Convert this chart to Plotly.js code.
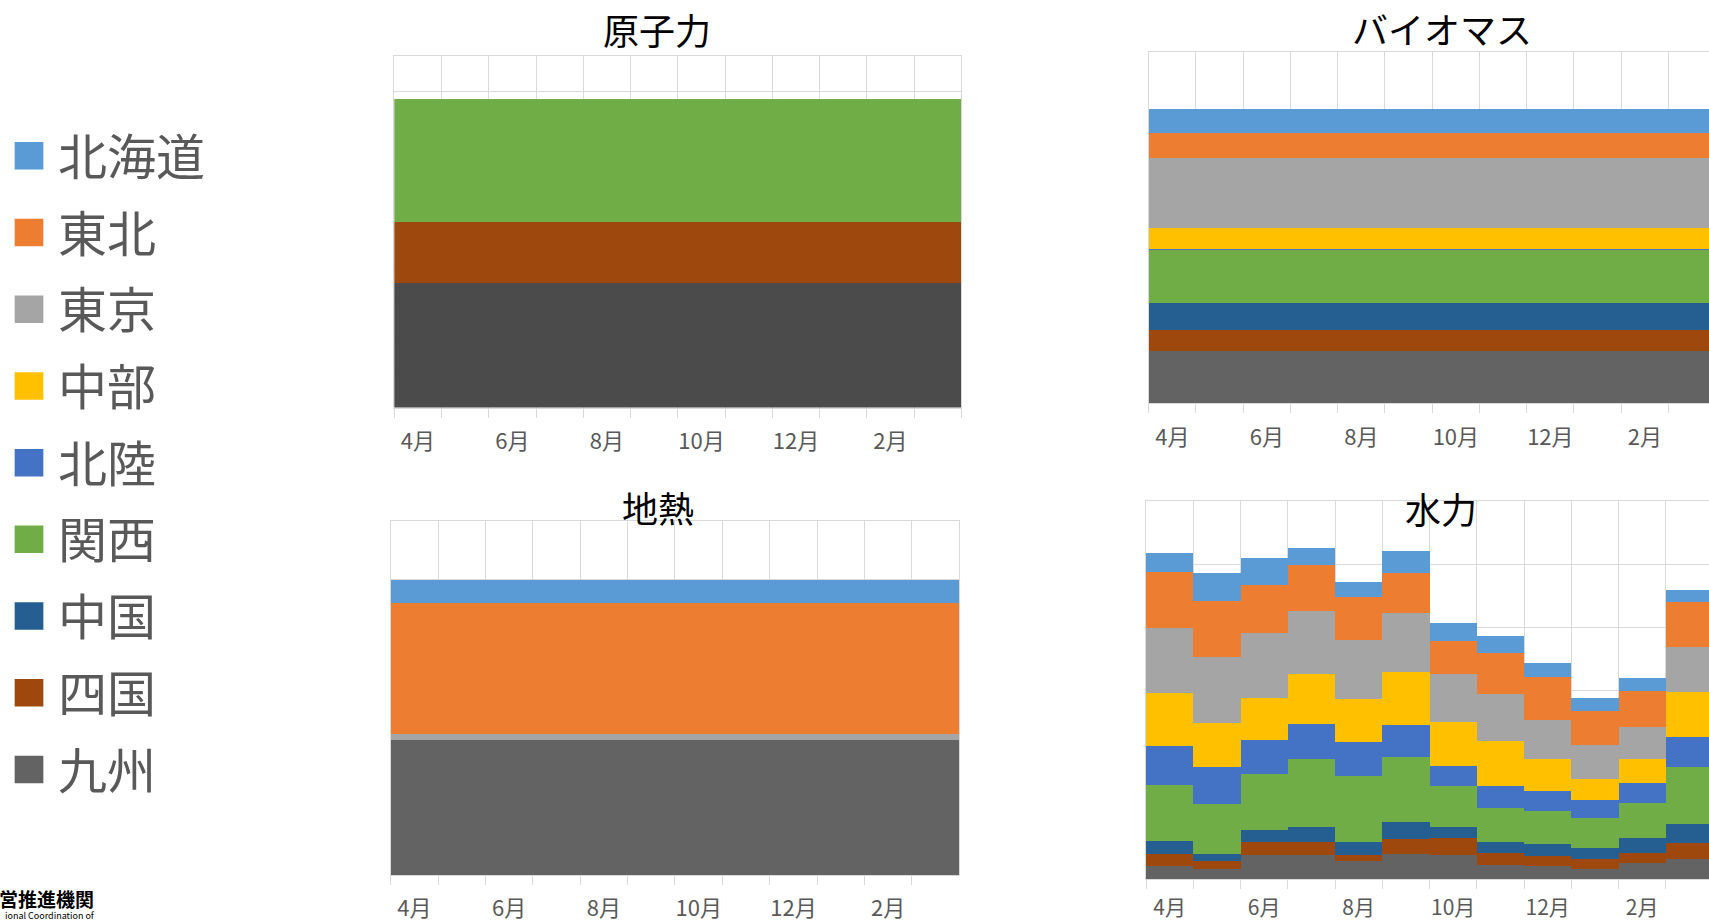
<!DOCTYPE html>
<html>
<head>
<meta charset="utf-8">
<script src="https://cdn.plot.ly/plotly-3.0.1.min.js"></script>
<style>
html,body{margin:0;padding:0;overflow:hidden;background:#ffffff;}
#chart{width:1725px;height:922px;}
</style>
</head>
<body>
<div id="chart"></div>
<script>
// ---- categories & labels ----
const months = ['4月','5月','6月','7月','8月','9月','10月','11月','12月','1月','2月','3月'];
const tickLabels = ['4月','','6月','','8月','','10月','','12月','','2月',''];
const chartTitles = ['原子力','バイオマス','地熱','水力'];
// stacking order, bottom to top
const regions = ['九州','四国','中国','関西','北陸','中部','東京','東北','北海道'];
const regionColors = ['#636363','#9E480E','#255E91','#70AD47','#4472C4','#FFC000','#A5A5A5','#ED7D31','#5B9BD5'];

// ---- 水力 (hydro) ----
const hydroKyushu   = [0.21,0.16,0.38,0.38,0.28,0.40,0.38,0.23,0.20,0.16,0.25,0.31];
const hydroShikoku  = [0.19,0.13,0.21,0.21,0.10,0.23,0.27,0.19,0.17,0.15,0.17,0.26];
const hydroChugoku  = [0.21,0.10,0.19,0.24,0.21,0.28,0.18,0.17,0.18,0.19,0.23,0.30];
const hydroKansai   = [0.88,0.80,0.88,1.07,1.05,1.02,0.65,0.54,0.53,0.47,0.56,0.90];
const hydroHokuriku = [0.62,0.58,0.54,0.56,0.54,0.52,0.31,0.34,0.32,0.28,0.32,0.49];
const hydroChubu    = [0.84,0.70,0.68,0.79,0.68,0.83,0.70,0.72,0.51,0.34,0.38,0.71];
const hydroTokyo    = [1.04,1.05,1.03,1.01,0.94,0.94,0.77,0.75,0.62,0.54,0.51,0.71];
const hydroTohoku   = [0.88,0.90,0.75,0.73,0.67,0.64,0.52,0.64,0.68,0.54,0.57,0.71];
const hydroHokkaido = [0.30,0.44,0.44,0.26,0.24,0.35,0.28,0.28,0.22,0.21,0.20,0.19];

// ---- 原子力 (nuclear) ----
const nuclearKyushu  = [3.53,3.53,3.53,3.53,3.53,3.53,3.53,3.53,3.53,3.53,3.53,3.53];
const nuclearShikoku = [1.75,1.75,1.75,1.75,1.75,1.75,1.75,1.75,1.75,1.75,1.75,1.75];
const nuclearKansai  = [3.51,3.51,3.51,3.51,3.51,3.51,3.51,3.51,3.51,3.51,3.51,3.51];

// ---- バイオマス (biomass) ----
const bioKyushu   = [0.89,0.89,0.89,0.89,0.89,0.89,0.89,0.89,0.89,0.89,0.89,0.89];
const bioShikoku  = [0.36,0.36,0.36,0.36,0.36,0.36,0.36,0.36,0.36,0.36,0.36,0.36];
const bioChugoku  = [0.46,0.46,0.46,0.46,0.46,0.46,0.46,0.46,0.46,0.46,0.46,0.46];
const bioKansai   = [0.91,0.91,0.91,0.91,0.91,0.91,0.91,0.91,0.91,0.91,0.91,0.91];
const bioHokuriku = [0.01,0.01,0.01,0.01,0.01,0.01,0.01,0.01,0.01,0.01,0.01,0.01];
const bioChubu    = [0.37,0.37,0.37,0.37,0.37,0.37,0.37,0.37,0.37,0.37,0.37,0.37];
const bioTokyo    = [1.18,1.18,1.18,1.18,1.18,1.18,1.18,1.18,1.18,1.18,1.18,1.18];
const bioTohoku   = [0.44,0.44,0.44,0.44,0.44,0.44,0.44,0.44,0.44,0.44,0.44,0.44];
const bioHokkaido = [0.40,0.40,0.40,0.40,0.40,0.40,0.40,0.40,0.40,0.40,0.40,0.40];

// ---- 地熱 (geothermal) ----
const geoKyushu   = [2.29,2.29,2.29,2.29,2.29,2.29,2.29,2.29,2.29,2.29,2.29,2.29];
const geoTokyo    = [0.10,0.10,0.10,0.10,0.10,0.10,0.10,0.10,0.10,0.10,0.10,0.10];
const geoTohoku   = [2.21,2.21,2.21,2.21,2.21,2.21,2.21,2.21,2.21,2.21,2.21,2.21];
const geoHokkaido = [0.39,0.39,0.39,0.39,0.39,0.39,0.39,0.39,0.39,0.39,0.39,0.39];

// ---- layout helpers ----
const W = 1725, H = 922;
const fx = p => p / W;
const fy = p => 1 - p / H;
const FONT = '"Noto Sans CJK JP", "Noto Sans", sans-serif';

function colorOf(region){ return regionColors[regions.indexOf(region)]; }

const traces = [];
function addSeries(list, ax, showLegend, overrides){
  list.forEach(([region, vals]) => {
    traces.push({
      type:'bar', x: months, y: vals, name: region,
      legendgroup: region, showlegend: showLegend,
      legendrank: regions.length - regions.indexOf(region),
      marker: {color: (overrides && overrides[region]) || colorOf(region), line:{width:0}},
      xaxis: 'x' + ax, yaxis: 'y' + ax,
      hoverinfo: 'skip'
    });
  });
}

addSeries([['九州',hydroKyushu],['四国',hydroShikoku],['中国',hydroChugoku],['関西',hydroKansai],
           ['北陸',hydroHokuriku],['中部',hydroChubu],['東京',hydroTokyo],['東北',hydroTohoku],['北海道',hydroHokkaido]], 4, true);
addSeries([['九州',nuclearKyushu],['四国',nuclearShikoku],['関西',nuclearKansai]], '', false, {'九州':'#4B4B4B'});
addSeries([['九州',bioKyushu],['四国',bioShikoku],['中国',bioChugoku],['関西',bioKansai],
           ['北陸',bioHokuriku],['中部',bioChubu],['東京',bioTokyo],['東北',bioTohoku],['北海道',bioHokkaido]], 2, false);
addSeries([['九州',geoKyushu],['東京',geoTokyo],['東北',geoTohoku],['北海道',geoHokkaido]], 3, false);

function xAxis(l, r, anchor, standoff, fsize){
  return {
    domain:[fx(l), fx(r)], anchor: anchor,
    type:'category', categoryorder:'array', categoryarray: months,
    tickmode:'array', tickvals: months, ticktext: tickLabels, tickangle: 0,
    tickson:'boundaries', ticks:'outside', ticklen:9, tickwidth:1, tickcolor:'#d9d9d9',
    showgrid:true, gridcolor:'#d9d9d9', gridwidth:1,
    showline:true, linecolor:'#d9d9d9', linewidth:1, mirror:true,
    zeroline:false, ticklabelstandoff: standoff,
    tickfont:{family:FONT, size:fsize, color:'#595959'},
    fixedrange:true
  };
}
function yAxis(t, b, max, anchor){
  return {
    domain:[fy(b), fy(t)], anchor: anchor,
    range:[0, max], tick0:0, dtick:1,
    showticklabels:false, ticks:'',
    showgrid:true, gridcolor:'#d9d9d9', gridwidth:1,
    showline:true, linecolor:'#d9d9d9', linewidth:1, mirror:true,
    zeroline:false, fixedrange:true
  };
}

const titleAnn = (text, xpx, ypx) => ({
  text: text, xref:'paper', yref:'paper', x: fx(xpx), y: fy(ypx),
  xanchor:'center', yanchor:'middle', showarrow:false,
  font:{family:FONT, size:36, color:'#000000'}
});

const layout = {
  width: W, height: H,
  margin:{l:0, r:0, t:0, b:0, pad:0},
  paper_bgcolor:'#ffffff', plot_bgcolor:'rgba(0,0,0,0)',
  barmode:'stack', bargap:0,
  showlegend:true,
  legend:{
    x: fx(-3), y: fy(117.5), xanchor:'left', yanchor:'top',
    font:{family:FONT, size:49, color:'#595959'},
    itemwidth: 48, traceorder:'grouped', tracegroupgap: 10,
    bgcolor:'rgba(0,0,0,0)', itemclick:false, itemdoubleclick:false
  },
  xaxis:  xAxis(392, 960, 'y', 14, 22),
  yaxis:  yAxis(56, 407.5, 10, 'x'),
  xaxis2: xAxis(1147.7, 1715.7, 'y2', 14, 22),
  yaxis2: yAxis(51.7, 403.3, 6, 'x2'),
  xaxis3: xAxis(388.4, 957.9, 'y3', 14, 22),
  yaxis3: yAxis(520.7, 875, 6, 'x3'),
  xaxis4: xAxis(1145, 1713, 'y4', 10, 21),
  yaxis4: yAxis(501, 879, 6, 'x4'),
  annotations:[
    titleAnn(chartTitles[0], 655, 29),
    titleAnn(chartTitles[1], 1442, 28),
    titleAnn(chartTitles[2], 656, 507),
    titleAnn(chartTitles[3], 1441, 508),
    {text:'<b>営推進機関</b>', xref:'paper', yref:'paper', x: fx(93), y: fy(898),
     xanchor:'right', yanchor:'middle', showarrow:false,
     font:{family:FONT, size:19, color:'#000000'}},
    {text:'ional Coordination of', xref:'paper', yref:'paper', x: fx(0), y: fy(915),
     xanchor:'left', yanchor:'middle', showarrow:false,
     font:{family:FONT, size:9, color:'#000000'}}
  ]
};

Plotly.newPlot('chart', traces, layout, {staticPlot:true, displayModeBar:false}).then(gd => {
  gd.querySelectorAll('.legend .legendpoints path').forEach(p => {
    p.setAttribute('d', 'M14.35,13.75H-14.35V-13.75H14.35Z');
  });
});
</script>
</body>
</html>
